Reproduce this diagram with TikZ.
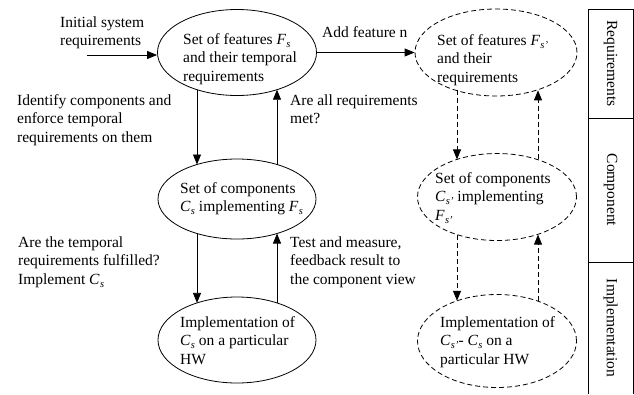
\documentclass[tikz,border=0pt]{standalone}
\usepackage{fontspec}
\setmainfont{Liberation Serif}
\usetikzlibrary{arrows.meta,calc,shapes.geometric}
\newcommand\vsub[2]{\textit{#1}\kern0.3bp\raisebox{-0.45ex}{\fontsize{10.5bp}{10.5bp}\selectfont\textit{#2}}}
\begin{document}
\begin{tikzpicture}[x=1bp,y=-1bp,
  every node/.style={font=\fontsize{15.5bp}{18.5bp}\selectfont},
  solidell/.style={ellipse, draw, line width=0.8bp, inner sep=0},
  dashell/.style={solidell, dash pattern=on 5bp off 3bp},
  lbl/.style={align=left, anchor=base west, inner sep=0},
  arr/.style={-{Triangle[length=10bp,width=8bp]}, line width=0.8bp},
  darr/.style={arr, dash pattern=on 5bp off 3bp},
  panel/.style={line width=0.8bp}]
\useasboundingbox (0,0) rectangle (634,394);

% ellipses
\node[solidell, minimum width=159bp, minimum height=86bp] (e1) at (237,52.5) {};
\node[solidell, minimum width=158bp, minimum height=80bp] (e2) at (237,199) {};
\node[solidell, minimum width=158bp, minimum height=86bp] (e3) at (237,340) {};
\node[dashell, minimum width=162bp, minimum height=87bp] (f1) at (496,52.5) {};
\node[dashell, minimum width=159bp, minimum height=87bp] (f2) at (497,197) {};
\node[dashell, minimum width=159bp, minimum height=93bp] (f3) at (497,341) {};

% texts inside ellipses (anchor = baseline of last line)
\node[lbl] (t1) at (183,81) {Set of features \vsub{F}{s}\\and their temporal\\requirements};
\node[lbl] (t2) at (180,211.5) {Set of components\\\vsub{C}{s} implementing \vsub{F}{s}};
\node[lbl] (t3) at (180,364) {Implementation of\\\vsub{C}{s} on a particular\\HW};
\node[lbl] (u1) at (437,82) {Set of features \vsub{F}{s'}\\and their\\requirements};
\node[lbl] (u2) at (435,220) {Set of components\\\vsub{C}{s'} implementing\\\vsub{F}{s'}};
\node[lbl] (u3) at (440,364) {Implementation of\\\vsub{C}{s'}- \vsub{C}{s} on a\\particular HW};

% side labels
\node[lbl] (init) at (60,45.5) {Initial system\\requirements};
\node[lbl] (add) at (322,37) {Add feature n};
\node[lbl] (ident) at (17,142) {Identify components and\\enforce temporal\\requirements on them};
\node[lbl] (areall) at (290,123.5) {Are all requirements\\met?};
\node[lbl] (arethe) at (18,284) {Are the temporal\\requirements fulfilled?\\Implement \vsub{C}{s}};
\node[lbl] (test) at (290,284) {Test and measure,\\feedback result to\\the component view};

% connector end points
\coordinate (start) at (87,55);
\path ($(e1.center)+(-40,37.2)$) coordinate (e1d);
\path ($(e1.center)+(40,37.2)$) coordinate (e1u);
\path ($(e2.center)+(-40,-34.5)$) coordinate (e2td);
\path ($(e2.center)+(40,-34.5)$) coordinate (e2tu);
\path ($(e2.center)+(-40,34.5)$) coordinate (e2bd);
\path ($(e2.center)+(40,34.5)$) coordinate (e2bu);
\path ($(e3.center)+(-40,-37.1)$) coordinate (e3d);
\path ($(e3.center)+(40,-37.1)$) coordinate (e3u);
\path ($(f1.center)+(-39,37.8)$) coordinate (f1d);
\path ($(f1.center)+(42,37.8)$) coordinate (f1u);
\path ($(f2.center)+(-40,-37.6)$) coordinate (f2td);
\path ($(f2.center)+(41,-37.6)$) coordinate (f2tu);
\path ($(f2.center)+(-40,37.6)$) coordinate (f2bd);
\path ($(f2.center)+(41,37.6)$) coordinate (f2bu);
\path ($(f3.center)+(-40,-40.2)$) coordinate (f3d);
\path ($(f3.center)+(41,-40.2)$) coordinate (f3u);

% connectors
\draw[arr] (start) -- (start -| e1.west);
\draw[arr] (e1.east) -- (e1.east -| f1.west);
\draw[arr] (e1d) -- (e2td);
\draw[arr] (e2tu) -- (e1u);
\draw[arr] (e2bd) -- (e3d);
\draw[arr] (e3u) -- (e2bu);
\draw[darr] (f1d) -- (f2td);
\draw[darr] (f2tu) -- (f1u);
\draw[darr] (f2bd) -- (f3d);
\draw[darr] (f3u) -- (f2bu);

% right panel
\draw[panel] (588,394) -- (588,9) -- (633,9) -- (633,394);
\draw[panel] (588,118) -- (633,118);
\draw[panel] (588,262) -- (633,262);
\node[rotate=-90] (vreq) at (610.5,63.5) {Requirements};
\node[rotate=-90] (vcomp) at (610.5,190) {Component};
\node[rotate=-90] (vimpl) at (610.5,328) {Implementation};
\end{tikzpicture}
\end{document}
